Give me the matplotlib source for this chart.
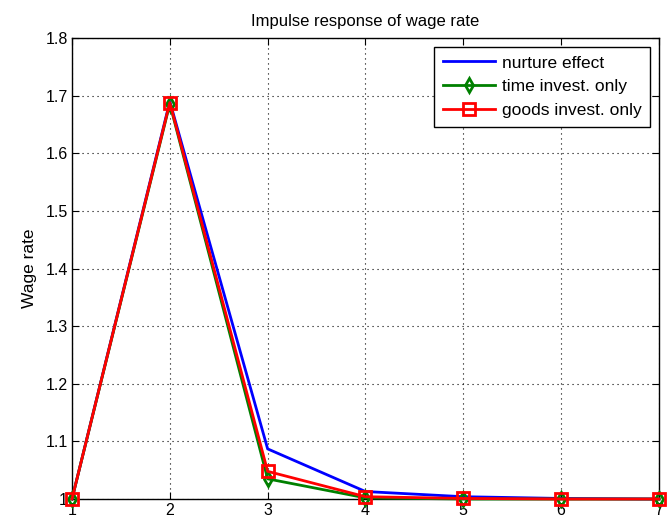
import matplotlib
matplotlib.use("Agg")
import matplotlib.pyplot as plt

plt.rcParams['font.family'] = ['Liberation Sans', 'DejaVu Sans']

periods = [1, 2, 3, 4, 5, 6, 7]
nurture_effect = [1.0, 1.690, 1.087, 1.013, 1.004, 1.001, 1.000]
time_only = [1.0, 1.686, 1.035, 1.002, 1.000, 1.000, 1.000]
goods_only = [1.0, 1.688, 1.048, 1.004, 1.001, 1.000, 1.000]

fig = plt.figure(figsize=(6.69, 5.26), dpi=100)
ax = fig.add_axes([0.1076, 0.0513, 0.8774, 0.8764])

ax.plot(periods, nurture_effect, color='#0000ff', lw=2, label='nurture effect',
        clip_on=False, zorder=3)
ax.plot(periods, time_only, color='#008000', lw=2, marker='d', markersize=7,
        markerfacecolor='none', markeredgewidth=2, label='time invest. only',
        clip_on=False, zorder=3)
ax.plot(periods, goods_only, color='#ff0000', lw=2, marker='s', markersize=9,
        markerfacecolor='none', markeredgewidth=2, label='goods invest. only',
        clip_on=False, zorder=3)

ax.set_xlim(1, 7)
ax.set_ylim(1.0, 1.8)
ax.set_xticks(periods)
ax.set_yticks([1.0, 1.1, 1.2, 1.3, 1.4, 1.5, 1.6, 1.7, 1.8])
ax.set_yticklabels(['1', '1.1', '1.2', '1.3', '1.4', '1.5', '1.6', '1.7', '1.8'])
ax.tick_params(direction='in', labelsize=11.5, length=5, top=True, right=True,
               pad=3)
ax.grid(True, color='black', linestyle=(0, (1, 3.5)), linewidth=0.8)
for s in ax.spines.values():
    s.set_linewidth(1)

ax.set_title('Impulse response of wage rate', fontsize=12, pad=9)
ax.set_ylabel('Wage rate', fontsize=12.5, labelpad=6)

leg = ax.legend(loc='upper right', fontsize=12.5, fancybox=False, framealpha=1,
                edgecolor='black', borderaxespad=0.5, handlelength=3.0,
                labelspacing=0.5, borderpad=0.5, handletextpad=0.4)
leg.get_frame().set_linewidth(1)
leg.set_zorder(5)

fig.savefig('out.png', dpi=100)
